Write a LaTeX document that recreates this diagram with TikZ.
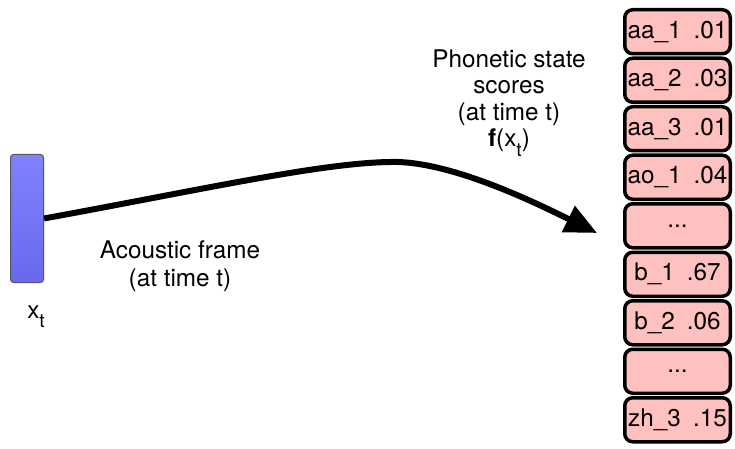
\documentclass[tikz,border=0pt]{standalone}
\usepackage{fontspec}
\setmainfont{TeX Gyre Heros}
\usetikzlibrary{arrows.meta,positioning}
\definecolor{FrameTop}{HTML}{8282FF}
\definecolor{FrameBot}{HTML}{6868EC}
\definecolor{FrameEdge}{HTML}{55556A}
\definecolor{Score}{HTML}{FFC0C0}
\newcommand{\lowsub}[1]{\raisebox{-.38em}{\fontsize{19}{19}\selectfont #1}}
\tikzset{framebox/.style={rounded corners=3pt,draw=FrameEdge,top color=FrameTop,bottom color=FrameBot,line width=1pt,minimum width=33pt,minimum height=128pt,inner sep=0pt},score/.style={rounded corners=8pt,draw=black,fill=Score,line width=3.5pt,minimum width=105.5pt,minimum height=44pt,inner sep=0pt},lbl/.style={align=center,inner sep=0pt},flow/.style={-{Triangle[length=32pt,width=28pt]},line width=6pt}}
\begin{document}
\begin{tikzpicture}[x=1pt,y=-1pt,node distance=1pt,font=\fontsize{24.3}{28}\selectfont]
      \useasboundingbox (0,0) rectangle (735,449);
      \node[framebox](frame) at (27,218.5){};
      \node[lbl,anchor=base](xt) at (36,318){x\lowsub{t}};
      \node[lbl](acoustic) at (180,266){Acoustic frame\\(at time t)};
      \node[lbl,font=\fontsize{24.3}{26.5}\selectfont](phonetic) at (509,103){Phonetic state\\scores\\(at time t)\\\textbf{f}(x\lowsub{t})};
      \node[score](aa1) at (677.5,31.75){aa\_1\hspace{.5em}.01};
      \node[score,below=of aa1](aa2){aa\_2\hspace{.5em}.03};
      \node[score,below=of aa2](aa3){aa\_3\hspace{.5em}.01};
      \node[score,below=of aa3](ao1){ao\_1\hspace{.5em}.04};
      \node[score,below=of ao1](dots1){...};
      \node[score,below=of dots1](b1){b\_1\hspace{.5em}.67};
      \node[score,below=of b1](b2){b\_2\hspace{.5em}.06};
      \node[score,below=of b2](dots2){...};
      \node[score,below=of dots2](zh3){zh\_3\hspace{.5em}.15};
      \coordinate (crest) at (390,162);
      \coordinate (tip) at (597,233);
      \draw[flow](frame.east) .. controls (200,190) and (320,163) .. (crest) .. controls (450,160) and (540,205) .. (tip);
    \end{tikzpicture}
\end{document}
